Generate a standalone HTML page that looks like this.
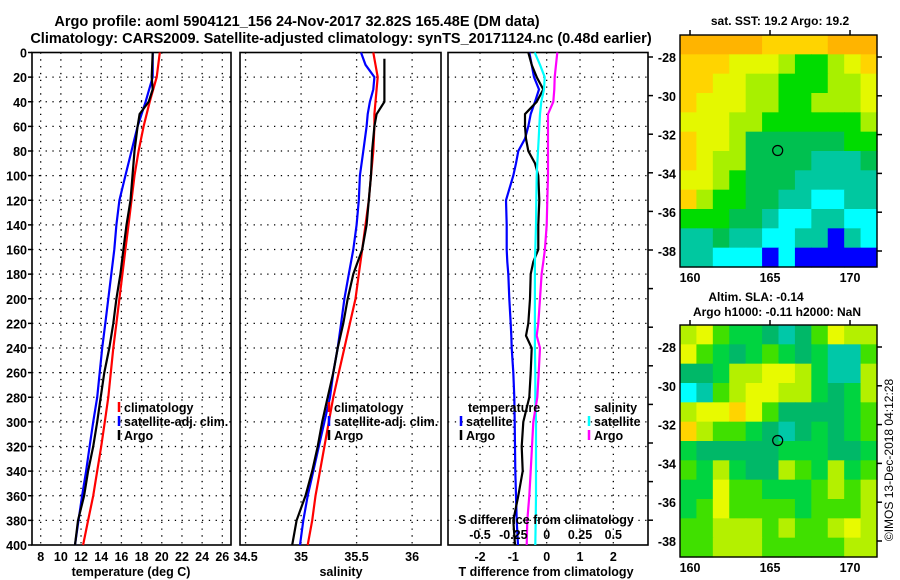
<!DOCTYPE html>
<html><head><meta charset="utf-8"><style>
body{margin:0;background:#fff;}
svg{display:block;font-family:"Liberation Sans",sans-serif;font-weight:bold;}
</style></head><body>
<svg id="c" width="900" height="580" viewBox="0 0 900 580" xmlns="http://www.w3.org/2000/svg">
<text x="297" y="26" font-size="14.5" text-anchor="middle">Argo profile: aoml 5904121_156 24-Nov-2017 32.82S 165.48E (DM data)</text>
<text x="341" y="43" font-size="14.5" text-anchor="middle">Climatology: CARS2009. Satellite-adjusted climatology: synTS_20171124.nc (0.48d earlier)</text>
<g id="g"></g>
</svg>
<script>
// ---- data ----
const depthT = [0,20,40,60,80,100,120,140,160,180,200,220,240,260,280,300,320,340,360,380,400];
const tempClim = [19.8,19.5,18.8,18.2,17.7,17.3,17.0,16.7,16.4,16.1,15.8,15.5,15.2,14.95,14.7,14.35,14.0,13.6,13.2,12.7,12.2];
const tempSat  = [19.1,19.1,18.4,17.6,17.0,16.4,15.8,15.5,15.3,15.0,14.7,14.4,14.1,13.85,13.6,13.2,12.85,12.5,12.1,11.75,11.4];
const depthTA = [0,20,30,40,50,60,80,100,120,140,160,180,200,220,240,260,280,300,320,340,360,380,400];
const tempArgo = [19.1,19.0,19.1,18.7,17.8,17.6,17.3,17.1,16.9,16.5,16.2,15.9,15.5,15.2,14.8,14.3,13.95,13.6,13.2,12.7,12.3,11.7,11.4];
const depthS = [0,10,20,30,40,50,60,80,100,120,140,160,180,200,220,240,260,280,300,320,340,360,380,400];
const salClim = [35.65,35.67,35.69,35.68,35.67,35.66,35.66,35.65,35.63,35.61,35.58,35.55,35.52,35.49,35.44,35.39,35.34,35.29,35.25,35.21,35.17,35.13,35.10,35.06];
const salSat  = [35.54,35.58,35.66,35.65,35.62,35.60,35.59,35.56,35.53,35.52,35.50,35.47,35.43,35.39,35.36,35.33,35.29,35.26,35.21,35.16,35.11,35.06,35.02,34.99];
const depthSA = [5,20,40,50,60,80,100,120,140,160,180,200,220,240,260,280,300,320,340,360,380,400];
const salArgo = [35.75,35.75,35.75,35.68,35.66,35.64,35.63,35.61,35.59,35.55,35.47,35.42,35.38,35.33,35.29,35.24,35.19,35.15,35.10,35.04,34.96,34.92];
const depthD = [0,10,20,30,40,50,60,70,80,90,100,120,140,160,170,180,200,220,230,240,260,280,300,320,340,360,380,400];
const tdiffSat  = [-0.52,-0.45,-0.38,-0.23,-0.35,-0.48,-0.55,-0.65,-0.85,-0.92,-1.0,-1.22,-1.2,-1.2,-1.18,-1.15,-1.12,-1.08,-1.06,-1.05,-1.0,-0.97,-0.96,-0.95,-0.94,-0.92,-0.9,-0.86];
const tdiffArgo = [-0.55,-0.45,-0.3,-0.1,-0.3,-0.65,-0.65,-0.62,-0.55,-0.35,-0.25,-0.22,-0.25,-0.25,-0.4,-0.48,-0.5,-0.55,-0.62,-0.45,-0.48,-0.52,-0.7,-0.75,-0.72,-0.85,-1.0,-0.95];
const sdiffSat  = [-0.09,-0.05,-0.015,-0.02,-0.04,-0.05,-0.055,-0.06,-0.065,-0.07,-0.075,-0.078,-0.08,-0.085,-0.088,-0.088,-0.088,-0.088,-0.088,-0.088,-0.085,-0.085,-0.08,-0.08,-0.08,-0.08,-0.082,-0.085];
const sdiffArgo = [0.08,0.07,0.06,0.057,0.05,0.01,0.01,0.01,0.01,0.01,0.01,0.005,0.0,-0.013,-0.025,-0.038,-0.05,-0.063,-0.075,-0.05,-0.06,-0.07,-0.1,-0.11,-0.12,-0.13,-0.145,-0.15];
const depthTicks = [0,20,40,60,80,100,120,140,160,180,200,220,240,260,280,300,320,340,360,380,400];
const tempTicks = [8,10,12,14,16,18,20,22,24,26];
const salTicks = [34.5,35,35.5,36];
const salTickLabels = ["34.5","35","35.5","36"];
const tdTicks = [-2,-1,0,1,2];
const sdTicks = [-0.5,-0.25,0,0.25,0.5];
const sdTickLabels = ["-0.5","-0.25","0","0.25","0.5"];
const sstGrid = [
[0,0,0,0,0,1,1,1,1,0,0,0],
[1,1,1,2,2,2,3,4,4,3,2,1],
[1,1,2,2,3,3,4,4,4,3,3,2],
[1,2,2,2,3,3,4,4,3,3,3,2],
[2,2,2,3,3,4,4,4,4,4,4,3],
[1,2,2,3,5,5,5,5,5,5,4,4],
[1,2,3,3,5,5,5,5,6,6,6,5],
[2,2,3,4,5,5,5,6,6,6,6,6],
[1,3,4,4,5,5,6,6,7,7,6,6],
[4,4,4,5,5,6,7,7,6,6,7,7],
[6,6,5,6,6,7,7,6,6,8,6,7],
[6,6,7,7,7,8,7,8,8,8,8,8]];
const slaGrid = [
[3,2,4,5,5,6,7,6,4,2,3,3],
[2,4,5,6,5,4,5,6,5,7,7,4],
[6,6,5,3,3,2,2,3,5,7,7,3],
[8,7,4,3,2,2,3,3,5,6,5,3],
[3,2,2,1,2,4,6,6,6,6,5,4],
[1,3,4,4,5,6,7,6,5,6,5,4],
[5,6,6,6,6,6,5,5,5,6,6,5],
[4,5,3,5,6,6,3,4,5,3,5,4],
[5,5,2,4,4,5,5,5,4,3,4,3],
[5,4,2,4,4,4,4,5,4,4,4,3],
[4,4,3,3,3,4,3,4,4,3,2,3],
[4,4,3,3,3,4,4,4,4,4,3,3]];
const lonTicks = [160,165,170];
const latTicks = [-28,-30,-32,-34,-36,-38];
const argoLon = 165.48, argoLat = -32.82;

// ---- drawing ----
const NS="http://www.w3.org/2000/svg";
const G=document.getElementById('g');
const FS=12.5;
function mk(tag,attrs,parent){const e=document.createElementNS(NS,tag);for(const k in attrs)e.setAttribute(k,attrs[k]);(parent||G).appendChild(e);return e;}
function txt(s,x,y,size,anchor,parent,fill){const t=mk('text',{x:x,y:y,'font-size':size,'text-anchor':anchor||'middle',fill:fill||'#000'},parent);t.textContent=s;return t;}
const PT=52.5, PB=545;
function yD(d){return PT+(d/400)*(PB-PT);}
function panel(name,x0,x1,xmin,xmax,ticks,labels,showY){
  const g=mk('g',{});
  
  
  const xs=v=>x0+(v-xmin)/(xmax-xmin)*(x1-x0);
  depthTicks.forEach((d,i)=>{
    if(d>0&&d<400){const l=mk('line',{x1:x0,x2:x1,y1:yD(d),y2:yD(d),stroke:'#000','stroke-width':1.3,'stroke-dasharray':'1.3 5.5'},g);
      }
    if(showY){const t=txt(String(d),x0-5,yD(d)+5,FS,'end',g);
      mk('line',{x1:x0-4,x2:x0,y1:yD(d),y2:yD(d),stroke:'#000','stroke-width':1.5},g);}
  });
  ticks.forEach((v,i)=>{
    const X=xs(v);
    const l=mk('line',{x1:X,x2:X,y1:PT,y2:PB,stroke:'#000','stroke-width':1.3,'stroke-dasharray':'1.3 5.5'},g);
    
    const t=txt(labels?labels[i]:String(v),X,PB+16,FS,'middle',g);
    
  });
  const r=mk('rect',{x:x0,y:PT,width:x1-x0,height:PB-PT,fill:'none',stroke:'#000','stroke-width':1.6},g);
  
  return {g,xs};
}
function line(p,xs,depths,vals,color,name){
  const pts=vals.map((v,i)=>xs(v).toFixed(1)+','+yD(depths[i]).toFixed(1)).join(' ');
  const l=mk('polyline',{points:pts,fill:'none',stroke:color,'stroke-width':2.2},p.g);
  
  
}
function legend(g,x,y,items){
  items.forEach((it,i)=>{
    const m=mk('line',{x1:x,x2:x,y1:y+i*14-10,y2:y+i*14,stroke:it[1],'stroke-width':2.5},g);
    
    const t=txt(it[0],x+5,y+i*14,FS,'start',g);
    
  });
}
// panel 1
const p1=panel('temperature-panel',32,231,7.14,26.86,tempTicks,null,true);
line(p1,p1.xs,depthT,tempClim,'#f00','line-temp-climatology');
line(p1,p1.xs,depthT,tempSat,'#00f','line-temp-satellite');
line(p1,p1.xs,depthTA,tempArgo,'#000','line-temp-argo');
legend(p1.g,119,412,[['climatology','#f00'],['satellite-adj. clim.','#00f'],['Argo','#000']]);
let t=txt('temperature (deg C)',131,576,FS,'middle',p1.g);
// panel 2
const p2=panel('salinity-panel',240,441,34.45,36.26,salTicks,salTickLabels,false);
line(p2,p2.xs,depthS,salClim,'#f00','line-sal-climatology');
line(p2,p2.xs,depthS,salSat,'#00f','line-sal-satellite');
line(p2,p2.xs,depthSA,salArgo,'#000','line-sal-argo');
legend(p2.g,329,412,[['climatology','#f00'],['satellite-adj. clim.','#00f'],['Argo','#000']]);
t=txt('salinity',341,576,FS,'middle',p2.g);
// panel 3
const p3=panel('difference-panel',448,648,-2.96,3.04,tdTicks,null,false);
const xsS=v=>p3.xs(v*4);
line(p3,p3.xs,depthD,tdiffSat,'#00f','line-tdiff-satellite');
line(p3,p3.xs,depthD,tdiffArgo,'#000','line-tdiff-argo');
line(p3,xsS,depthD,sdiffSat,'#0ff','line-sdiff-satellite');
line(p3,xsS,depthD,sdiffArgo,'#f0f','line-sdiff-argo');
t=txt('temperature',468,412,FS,'start',p3.g);
legend(p3.g,461,426,[['satellite','#00f'],['Argo','#000']]);
t=txt('salinity',594,412,FS,'start',p3.g);
legend(p3.g,589,426,[['satellite','#0ff'],['Argo','#f0f']]);
t=txt('S difference from climatology',546,524,FS,'middle',p3.g);
sdTicks.forEach((v,i)=>{const s=txt(sdTickLabels[i],xsS(v),539,FS,'middle',p3.g);});
t=txt('T difference from climatology',546,576,FS,'middle',p3.g);
for(let y=57;y<PB;y+=38.6){mk('line',{x1:648,x2:653,y1:y,y2:y,stroke:'#000','stroke-width':1.5},p3.g);}
// maps
const sstPal=['#ffb400','#ffd400','#e4f800','#a8f000','#00dc00','#00c050','#00c8a0','#00ffff','#0000ff'];
const slaPal=['#ffa800','#ffd400','#e8fa00','#b4f000','#40e000','#00d440','#00b868','#00c8a8','#00ffff'];
function map(name,top,bottom,grid,pal,lat0y,title){
  const g=mk('g',{});
  
  
  const L=680,R=877,rows=grid.length,cols=grid[0].length;
  const cw=(R-L)/cols,ch=(bottom-top)/rows;
  grid.forEach((row,r)=>row.forEach((v,c)=>{
    const cell=mk('rect',{x:(L+c*cw).toFixed(2),y:(top+r*ch).toFixed(2),width:(cw+0.6).toFixed(2),height:(ch+0.6).toFixed(2),fill:pal[v]},g);
    
    
  }));
  const lx=v=>690+(v-160)*16, ly=v=>lat0y+(-28-v)*19.4;
  const fr=mk('rect',{x:L,y:top,width:R-L,height:bottom-top,fill:'none',stroke:'#000','stroke-width':1.4},g);
  
  lonTicks.forEach(v=>{mk('line',{x1:lx(v),x2:lx(v),y1:top-5,y2:top,stroke:'#000','stroke-width':1.5},g);
    const s=txt(String(v),lx(v),bottom+15,FS,'middle',g);});
  latTicks.forEach(v=>{mk('line',{x1:R,x2:R+5,y1:ly(v),y2:ly(v),stroke:'#000','stroke-width':1.5},g);
    const s=txt(String(v),676,ly(v)+5,FS,'end',g);});
  const c=mk('circle',{cx:lx(argoLon),cy:ly(argoLat),r:5,fill:'none',stroke:'#000','stroke-width':1.2},g);
  
  title.forEach((s,i)=>{const tt=txt(s[0],s[1],s[2],12,'middle',g);});
}
map('sst-map',35,267,sstGrid,sstPal,57,[['sat. SST: 19.2 Argo: 19.2',780,25]]);
map('sla-map',325,557,slaGrid,slaPal,347,[['Altim. SLA: -0.14',756,301],['Argo h1000: -0.11 h2000: NaN',777,316]]);
t=txt('©IMOS 13-Dec-2018 04:12:28',0,0,12,'middle');
t.setAttribute('transform','translate(893,460) rotate(-90)');
t.setAttribute('font-weight','normal');


</script>
</body></html>
